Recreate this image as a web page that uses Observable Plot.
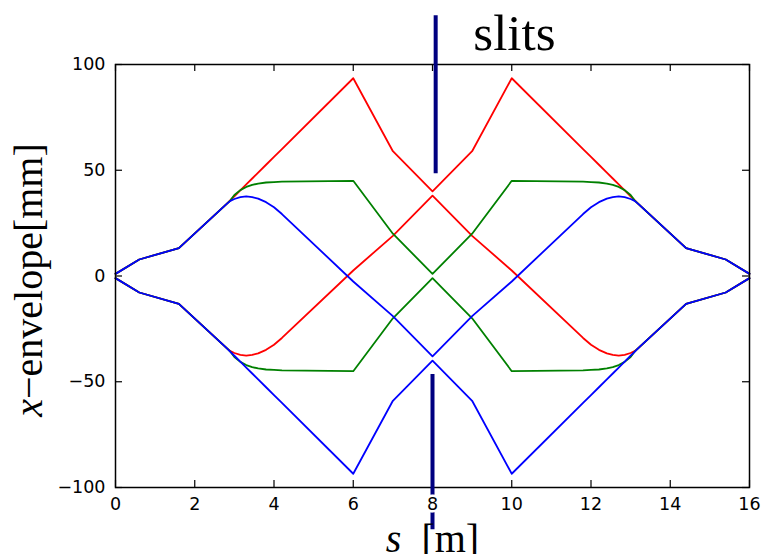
<!DOCTYPE html>
<html>
<head>
<meta charset="utf-8">
<script src="https://cdn.jsdelivr.net/npm/d3@7"></script>
<script src="https://cdn.jsdelivr.net/npm/@observablehq/plot@0.6"></script>
<style>
  body { margin: 0; background: #fff; }
  #chart svg { overflow: visible; }
</style>
</head>
<body>
<div id="chart"></div>
<script>
// Beam position along the line, in metres
const s = [0, 0.6, 1.6, 2.8, 2.9, 3.0, 3.15, 3.3, 3.45, 3.6, 3.8, 4.0, 4.2, 6, 7, 8,
           9, 10, 11.8, 12, 12.2, 12.4, 12.55, 12.7, 12.85, 13.0, 13.1, 13.2, 14.4, 15.4, 16];

// Horizontal envelope of each ray bundle, in mm
const redUpper = [1, 7.8, 13.2, 34, 35.9, 37.7, 40.5, 43.3, 46.1, 48.9, 52.6, 56.3, 60.0, 93.5, 59, 40,
                  59, 93.5, 60.0, 56.3, 52.6, 48.9, 46.1, 43.3, 40.5, 37.7, 35.9, 34, 13.2, 7.8, 1];
const redLower = [-1, -7.8, -13.2, -34, -35.5, -36.4, -37.3, -37.6, -37.3, -36.6, -34.9, -32.5, -29.3, 2.6, 19, 38,
                  19, 2.6, -29.3, -32.5, -34.9, -36.6, -37.3, -37.6, -37.3, -36.4, -35.5, -34, -13.2, -7.8, -1];
const greenUpper = [1, 7.8, 13.2, 34, 35.8, 38.3, 40.6, 42.1, 43.1, 43.7, 44.2, 44.4, 44.6, 45, 20, 1,
                    20, 45, 44.6, 44.4, 44.2, 43.7, 43.1, 42.1, 40.6, 38.3, 35.8, 34, 13.2, 7.8, 1];
const greenLower = [-1, -7.8, -13.2, -34, -35.8, -38.3, -40.6, -42.1, -43.1, -43.7, -44.2, -44.4, -44.6, -45, -20, -1,
                    -20, -45, -44.6, -44.4, -44.2, -43.7, -43.1, -42.1, -40.6, -38.3, -35.8, -34, -13.2, -7.8, -1];
const blueUpper = [1, 7.8, 13.2, 34, 35.5, 36.4, 37.3, 37.6, 37.3, 36.6, 34.9, 32.5, 29.3, -2.6, -19, -38,
                   -19, -2.6, 29.3, 32.5, 34.9, 36.6, 37.3, 37.6, 37.3, 36.4, 35.5, 34, 13.2, 7.8, 1];
const blueLower = [-1, -7.8, -13.2, -34, -35.9, -37.7, -40.5, -43.3, -46.1, -48.9, -52.6, -56.3, -60.0, -93.5, -59, -40,
                   -59, -93.5, -60.0, -56.3, -52.6, -48.9, -46.1, -43.3, -40.5, -37.7, -35.9, -34, -13.2, -7.8, -1];

// Axis ticks
const xTicks = [0, 2, 4, 6, 8, 10, 12, 14, 16];
const yTicks = [-100, -50, 0, 50, 100];

// Slit jaws (s position, inner edge and outer end, mm) and their label
const slitS = [8.08, 8.0];
const slitInner = [48.3, -46.6];
const slitOuter = [123, -120];
const slitLabel = [{s: 9.03, v: 107, text: "slits"}];

const series = [
  {color: "#ff0000", values: redUpper},
  {color: "#ff0000", values: redLower},
  {color: "#008000", values: greenUpper},
  {color: "#008000", values: greenLower},
  {color: "#0000ff", values: blueUpper},
  {color: "#0000ff", values: blueLower}
];
const slits = slitS.map((x, i) => ({s: x, from: slitInner[i], to: slitOuter[i]}));

const serif = "'Liberation Serif', 'DejaVu Serif', serif";
const sans = "'DejaVu Sans', sans-serif";

const W = 761, H = 554;
const M = {left: 115, right: 12, top: 64, bottom: 67};
const frameW = W - M.left - M.right;
const frameH = H - M.top - M.bottom;
const tickLen = 7;

const chart = Plot.plot({
  width: W,
  height: H,
  marginLeft: M.left,
  marginRight: M.right,
  marginTop: M.top,
  marginBottom: M.bottom,
  x: {domain: [0, 16], axis: null},
  y: {domain: [-100, 100], axis: null},
  style: {background: "white", fontFamily: sans, overflow: "visible"},
  marks: [
    ...series.map(d => Plot.line(d.values.map((v, i) => ({s: s[i], v})),
      {x: "s", y: "v", stroke: d.color, strokeWidth: 1.8})),
    // inward ticks on all four sides
    Plot.tickX(xTicks, {x: d => d, insetTop: frameH - tickLen, stroke: "black", strokeWidth: 1.2}),
    Plot.tickX(xTicks, {x: d => d, insetBottom: frameH - tickLen, stroke: "black", strokeWidth: 1.2}),
    Plot.tickY(yTicks, {y: d => d, insetRight: frameW - tickLen, stroke: "black", strokeWidth: 1.2}),
    Plot.tickY(yTicks, {y: d => d, insetLeft: frameW - tickLen, stroke: "black", strokeWidth: 1.2}),
    Plot.frame({stroke: "black", strokeWidth: 1.5}),
    Plot.ruleX(slits, {x: "s", y1: "from", y2: "to", stroke: "#000080", strokeWidth: 4}),
    Plot.text(slitLabel, {x: "s", y: "v", text: "text", textAnchor: "start", lineAnchor: "bottom",
      fontFamily: serif, fontSize: 51, fill: "black"}),
    // tick labels
    Plot.text(xTicks, {x: d => d, frameAnchor: "bottom", dy: 10, lineAnchor: "top", text: d => String(d),
      fontSize: 17.5, fontFamily: sans, fill: "black", stroke: "white", strokeWidth: 5}),
    Plot.text(yTicks, {y: d => d, frameAnchor: "left", dx: -10, textAnchor: "end", text: d => d < 0 ? "\u2212" + (-d) : String(d),
      fontSize: 17.5, fontFamily: sans, fill: "black"}),
    // axis titles
    Plot.text(["s [m]"], {frameAnchor: "bottom", dy: 64, lineAnchor: "bottom", textAnchor: "middle",
      fontFamily: serif, fontSize: 40, fill: "black", className: "xtitle"}),
    Plot.text(["x\u2212envelope[mm]"], {frameAnchor: "left", dx: -74, dy: 4, rotate: -90, lineAnchor: "bottom",
      textAnchor: "middle", fontFamily: serif, fontSize: 40, fill: "black", className: "ytitle"})
  ]
});

document.getElementById("chart").append(chart);

// italic math symbols in the axis titles
d3.select(chart).selectAll(".xtitle text").html('<tspan font-style="italic">s</tspan>\u2002[m]');
d3.select(chart).selectAll(".ytitle text").html('<tspan font-style="italic">x</tspan>\u2212envelope[mm]');
</script>
</body>
</html>
